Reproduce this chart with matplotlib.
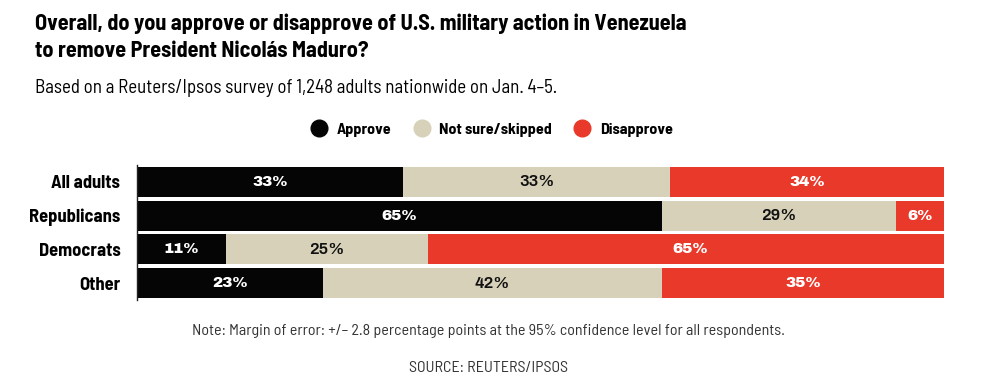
import matplotlib.pyplot as plt
import numpy as np

groups = ['All adults', 'Republicans', 'Democrats', 'Other']
approve = [33, 65, 11, 23]
not_sure = [33, 29, 25, 42]
disapprove = [34, 6, 65, 35]
series_names = ['Approve', 'Not sure/skipped', 'Disapprove']
colors = ['#050505', '#d6d1b8', '#e8392a']
label_colors = ['white', '#111111', 'white']
label_fonts = [['Archivo Black', 'DejaVu Sans'], ['Archivo', 'DejaVu Sans'], ['Archivo Black', 'DejaVu Sans']]
label_sizes = [11, 12, 11]

FONT = ['Barlow Semi Condensed', 'DejaVu Sans']
plt.rcParams['font.family'] = FONT

fig = plt.figure(figsize=(9.88, 3.91), dpi=100)
ax = fig.add_axes([0.1387, 0.2327, 0.8168, 0.345])

y = np.arange(len(groups))
left = np.zeros(len(groups))
for vals, col, lc, lf, ls in zip([approve, not_sure, disapprove], colors, label_colors, label_fonts, label_sizes):
    vals = np.array(vals, dtype=float)
    ax.barh(y, vals, left=left, color=col, height=0.89)
    for yi, v, l in zip(y, vals, left):
        ax.text(l + v / 2, yi, f'{int(v)}%', ha='center', va='center',
                color=lc, fontsize=ls, fontweight='bold', family=lf)
    left += vals

ax.set_xlim(0, 100)
ax.set_ylim(len(groups) - 0.5, -0.5)
ax.set_yticks(y)
ax.set_yticklabels(groups, fontsize=13.3, fontweight='bold')
ax.tick_params(axis='y', length=0, pad=12)
ax.set_xticks([])
for s in ['top', 'right', 'bottom']:
    ax.spines[s].set_visible(False)
ax.spines['left'].set_linewidth(1)
ax.spines['left'].set_color('#222222')

fig.text(0.035, 0.965, 'Overall, do you approve or disapprove of U.S. military action in Venezuela\nto remove President Nicolás Maduro?',
         fontsize=16, fontweight='bold', va='top', ha='left', linespacing=1.4)
fig.text(0.035, 0.775, 'Based on a Reuters/Ipsos survey of 1,248 adults nationwide on Jan. 4\u20135.',
         fontsize=13.6, va='center', ha='left')

# legend
handles = [plt.Line2D([], [], marker='o', ls='', color=c, markersize=12) for c in colors]
fig.legend(handles, series_names, loc='center', bbox_to_anchor=(0.494, 0.668), ncol=3, frameon=False,
           prop={'weight': 'bold', 'size': 11.5}, handletextpad=0.1, columnspacing=0.9)

fig.text(0.494, 0.153, 'Note: Margin of error: +/\u2013 2.8 percentage points at the 95% confidence level for all respondents.',
         fontsize=11.5, ha='center', va='center', color='#333333')
fig.text(0.494, 0.06, 'SOURCE: REUTERS/IPSOS', fontsize=11.5, ha='center', va='center', color='#333333')

fig.savefig('out.png', dpi=100)
